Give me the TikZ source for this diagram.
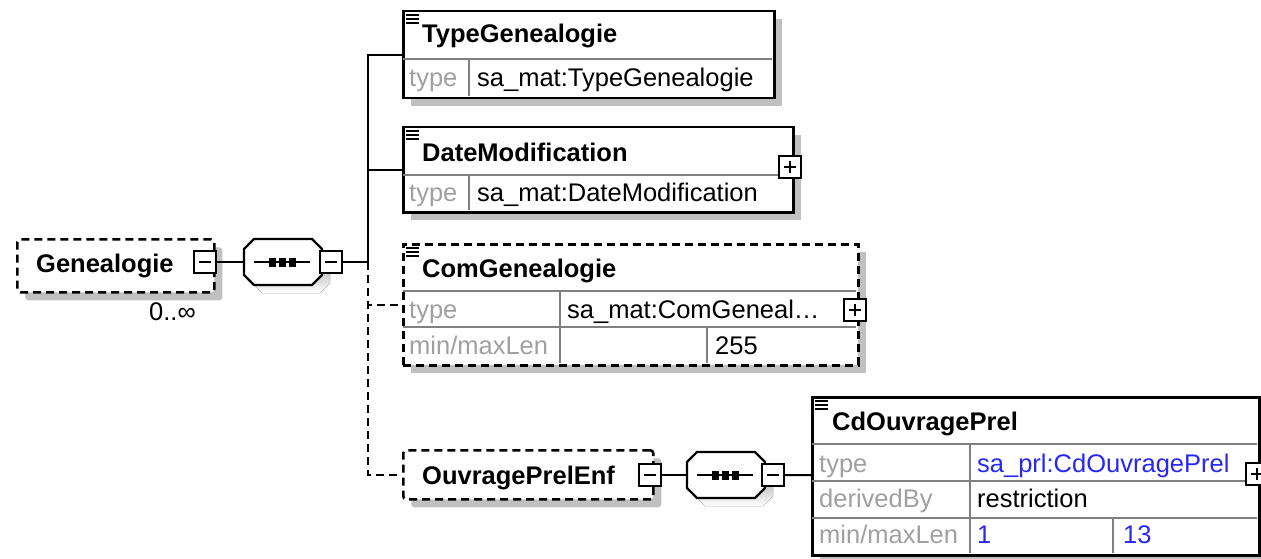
\documentclass[tikz,border=0pt]{standalone}
\usepackage{fontspec}
\setmainfont{Liberation Sans}
\usepackage{tikz}
\usetikzlibrary{shadows}
\definecolor{shade}{RGB}{192,192,192}
\definecolor{rule}{RGB}{128,128,128}
\definecolor{label}{RGB}{160,160,160}
\definecolor{link}{RGB}{40,40,245}
\newcommand{\drawrule}{\draw[rule, line width=2pt]}
\newcommand{\menuicon}[2]{\foreach \k in {0,1,2}{\draw[line width=2.2pt] (#1,#2+4*\k)--++(13,0);}}
\newcommand{\minusbox}[3]{\node[pm] (#1) at (#2,#3) {};
  \draw[line width=2pt] (#2-6,#3)--(#2+6,#3);}
\newcommand{\plusbox}[3]{\node[pm] (#1) at (#2,#3) {};
  \draw[line width=2.5pt] (#2-6,#3)--(#2+6,#3) (#2,#3-6)--(#2,#3+6);}
\newcommand{\octpath}{(-39,-13)--(-39,13)--(-29,23)--(29,23)--(39,13)--(39,-13)--(29,-23)--(-29,-23)--cycle}
\newcommand{\seqbox}[3]{%
  \begin{scope}[shift={(#2+8,#3+8)}]\fill[shade] \octpath;\end{scope}
  \begin{scope}[shift={(#2,#3)}]
    \draw[line width=2.2pt, fill=white] \octpath;
    \draw[line width=2pt] (-29,0)--(27,0);
    \foreach \d in {-11,-1,9}{\fill (\d-3.5,-4.5) rectangle (\d+3.5,4.5);}
  \end{scope}
  \node[seqnode] (#1) at (#2,#3) {};}

\begin{document}
\begin{tikzpicture}[x=1pt, y=-1pt, font=\fontsize{25.5}{30}\selectfont,
  box/.style={draw, line width=2.5pt, fill=white, inner sep=0pt, anchor=north west,
    drop shadow={shadow xshift=8pt, shadow yshift=-8pt, fill=shade, opacity=1}},
  optbox/.style={box, dash pattern=on 8pt off 5pt},
  pm/.style={draw, line width=2.2pt, fill=white, minimum size=22pt, inner sep=0pt},
  seqnode/.style={minimum width=78pt, minimum height=46pt, inner sep=0pt},
  conn/.style={line width=2pt},
  txt/.style={anchor=base west, inner sep=0pt},
  ename/.style={txt, font=\fontsize{25.5}{30}\selectfont\bfseries},
  lbl/.style={txt, text=label},
  lnk/.style={txt, text=link}]
\useasboundingbox (0,0) rectangle (1261,559);
% root element
\node[optbox, rounded corners=3pt, minimum width=197pt, minimum height=53pt] (genealogie) at (16,238) {};
\node[ename] (genealogietxt) at (36,272) {Genealogie};
\node[txt] (genocc) at (149,320) {0..∞};
\minusbox{genminus}{205}{262}
\seqbox{seqa}{283}{262}
\minusbox{seqaminus}{331}{262}
\coordinate (fork) at (368,262);
% TypeGenealogie
\node[box, minimum width=371pt, minimum height=87pt] (typegen) at (402,10) {};
\drawrule (403,59)--(772,59);
\drawrule (469,60)--(469,96);
\menuicon{406}{15}
\node[ename] (typegentxt) at (422,43) {TypeGenealogie};
\node[lbl] (typegentype) at (409,87) {type};
\node[txt] (typegenval) at (477,87) {sa\_mat:TypeGenealogie};
% DateModification
\node[box, minimum width=390pt, minimum height=85pt] (datemod) at (402,126) {};
\drawrule (403,175)--(791,175);
\drawrule (469,176)--(469,210);
\menuicon{406}{131}
\node[ename] (datemodtxt) at (422,161) {DateModification};
\node[lbl] (datemodtype) at (409,201) {type};
\node[txt] (datemodval) at (477,201) {sa\_mat:DateModification};
\plusbox{datemodplus}{790}{167}
% ComGenealogie
\node[optbox, minimum width=455pt, minimum height=121pt] (comgen) at (402,243) {};
\drawrule (403,291)--(856,291);
\drawrule (403,327)--(856,327);
\drawrule (560,292)--(560,363);
\drawrule (707,328)--(707,363);
\menuicon{406}{248}
\node[ename] (comgentxt) at (422,277) {ComGenealogie};
\node[lbl] (comgentype) at (409,318) {type};
\node[txt] (comgenval) at (567,318) {sa\_mat:ComGeneal…};
\node[lbl] (comgenlen) at (409,354) {min/maxLen};
\node[txt] (comgenmax) at (715,354) {255};
\plusbox{comgenplus}{855}{310}
% OuvragePrelEnf
\node[optbox, rounded corners=3pt, minimum width=250pt, minimum height=49pt] (ouvenf) at (402,449) {};
\node[ename] (ouvenftxt) at (422,484) {OuvragePrelEnf};
\minusbox{ouvminus}{650}{475}
\seqbox{seqb}{726}{475}
\minusbox{seqbminus}{773}{475}
% CdOuvragePrel
\node[box, minimum width=447pt, minimum height=158pt] (cdouv) at (811,396) {};
\drawrule (812,444)--(1257,444);
\drawrule (812,481)--(1257,481);
\drawrule (812,518)--(1257,518);
\drawrule (970,445)--(970,553);
\drawrule (1113,519)--(1113,553);
\menuicon{815}{401}
\node[ename] (cdouvtxt) at (832,430) {CdOuvragePrel};
\node[lbl] (cdouvtype) at (819,472) {type};
\node[lnk] (cdouvval) at (977,472) {sa\_prl:CdOuvragePrel};
\node[lbl] (cdouvder) at (819,507) {derivedBy};
\node[txt] (cdouvres) at (977,507) {restriction};
\node[lbl] (cdouvlen) at (819,543) {min/maxLen};
\node[lnk] (cdouvmin) at (977,543) {1};
\node[lnk] (cdouvmax) at (1123,543) {13};
\plusbox{cdouvplus}{1257}{474}
% connectors
\draw[conn] (genminus) -- (seqa);
\draw[conn] (seqaminus) -- (fork);
\draw[conn] (fork) |- (typegen);
\draw[conn] (fork) |- (datemod);
\draw[conn, dash pattern=on 8pt off 5pt] (fork) |- (comgen);
\draw[conn, dash pattern=on 8pt off 5pt] (fork) |- (ouvenf);
\draw[conn] (ouvminus) -- (seqb);
\draw[conn] (seqbminus) -- (cdouv);
\end{tikzpicture}
\end{document}
